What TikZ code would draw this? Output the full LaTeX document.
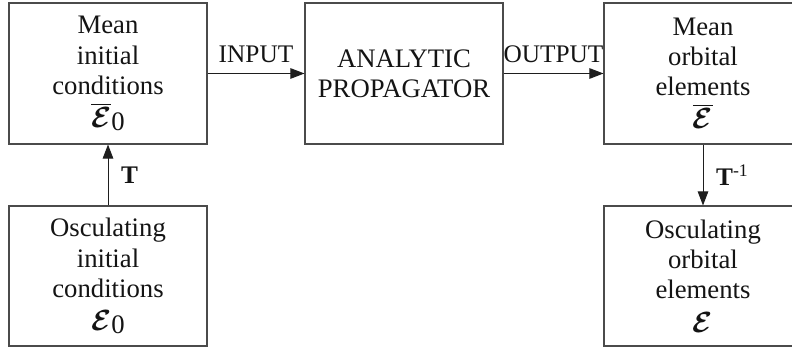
\documentclass[tikz,border=0pt]{standalone}
\usepackage{amsmath}
\usepackage{fontspec}
\setmainfont{Liberation Serif}
\usepackage{tikz}
\usetikzlibrary{arrows.meta, positioning}
\definecolor{myline}{RGB}{75,75,75}
\definecolor{mydark}{RGB}{30,30,30}
\definecolor{mytext}{RGB}{20,20,20}
\tikzset{
  box/.style={rectangle, draw=myline, fill=white, align=center,
    minimum width=4.95cm, minimum height=3.525cm, inner sep=0pt,
    text=mytext, line width=0.75pt, font=\fontsize{19}{21.5}\selectfont},
  lowbox/.style={box, minimum height=3.5cm},
  arrow/.style={-{Triangle[length=10pt, width=7.5pt]}, line width=0.7pt, color=mydark},
  lbl/.style={text=mytext, inner sep=1pt, font=\fontsize{18}{21}\selectfont}
}
\newcommand{\calE}{\scalebox{1.2}{$\boldsymbol{\mathcal{E}}$}}
\newcommand{\subzero}{\raisebox{-2pt}{0}}

\begin{document}
\begin{tikzpicture}
  \clip (0,0) rectangle (19.8,8.725);

  % Top row
  \node[box] (mean_ic) at (2.7, 6.8875) {Mean\\initial\\conditions\\[2pt]$\overline{\calE}$\subzero};
  \node[box] (prop) at (10.1, 6.8875) {ANALYTIC\\PROPAGATOR};
  \node[box] (mean_oe) at (17.575, 6.8875) {Mean\\orbital\\elements\\[2pt]$\overline{\calE}$};

  % Bottom row
  \node[lowbox] (osc_ic) at (2.7, 1.825) {Osculating\\initial\\conditions\\[2pt]$\calE$\subzero};
  \node[lowbox] (osc_oe) at (17.575, 1.825) {Osculating\\orbital\\elements\\[2pt]$\calE$};

  % Connections
  \draw[arrow] (mean_ic.east) -- node[lbl, above=6pt] {INPUT} (prop.west);
  \draw[arrow] (prop.east) -- node[lbl, above=6pt] {OUTPUT} (mean_oe.west);
  \draw[arrow] (osc_ic.north) -- node[lbl, right=8pt] {\textbf{T}} (mean_ic.south);
  \draw[arrow] (mean_oe.south) -- node[lbl, right=8pt] {\textbf{T}\textsuperscript{-1}} (osc_oe.north);
\end{tikzpicture}
\end{document}
